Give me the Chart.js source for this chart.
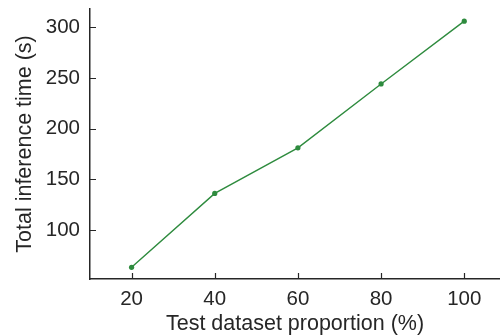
<!DOCTYPE html>
<html>
<head>
<meta charset="utf-8">
<script src="https://cdn.jsdelivr.net/npm/chart.js@4"></script>
<style>
  html, body { margin: 0; padding: 0; background: #fff; overflow: hidden; }
  #wrap { width: 500px; height: 336px; }
</style>
</head>
<body>
<div id="wrap"><canvas id="lineChart"></canvas></div>
<script>
// 데이터
const proportions = [20, 40, 60, 80, 100];
const inferenceTimes = [63, 136, 181, 244, 306];
const yTicks = [100, 150, 200, 250, 300];

const inkColor = '#262626';
const lineColor = '#2e8b3e';
const fontFamily = '"Liberation Sans", Arial, sans-serif';

// 안쪽으로 향한 눈금 그리기
const innerTicks = {
  id: 'innerTicks',
  afterDraw(chart) {
    const ctx = chart.ctx;
    const x = chart.scales.x, y = chart.scales.y;
    const len = 6;
    ctx.save();
    ctx.strokeStyle = inkColor;
    ctx.lineWidth = 1.2;
    ctx.beginPath();
    x.ticks.forEach(t => {
      const px = Math.round(x.getPixelForValue(t.value)) + 0.5;
      ctx.moveTo(px, y.bottom);
      ctx.lineTo(px, y.bottom - len);
    });
    y.ticks.forEach(t => {
      const py = Math.round(y.getPixelForValue(t.value)) + 0.5;
      ctx.moveTo(x.left, py);
      ctx.lineTo(x.left + len, py);
    });
    ctx.stroke();
    ctx.restore();
  }
};

let ctx = document.getElementById('lineChart');
new Chart(ctx, {
  type: 'line',
  data: {
    datasets: [{
      data: proportions.map((p, i) => ({ x: p, y: inferenceTimes[i] })),
      borderColor: lineColor,
      backgroundColor: lineColor,
      pointBackgroundColor: lineColor,
      pointBorderColor: lineColor,
      borderWidth: 1.4,
      pointRadius: 2.6,
      pointBorderWidth: 0,
      tension: 0,
      fill: false
    }]
  },
  options: {
    responsive: true,
    maintainAspectRatio: false,
    animation: false,
    devicePixelRatio: 1,
    layout: { autoPadding: false, padding: { top: 9, right: 0, left: 0, bottom: 0 } },
    scales: {
      x: {
        type: 'linear',
        min: 10,
        max: 108.6,
        afterBuildTicks: (scale) => { scale.ticks = proportions.map(v => ({ value: v })); },
        afterFit: (scale) => {
          scale.height = 57;
          scale.paddingLeft = 0;
          scale.paddingRight = 0;
        },
        grid: { display: false, drawTicks: false },
        border: { display: true, color: inkColor, width: 1.5 },
        ticks: {
          color: inkColor,
          padding: 8,
          maxRotation: 0,
          font: { family: fontFamily, size: 20.5 }
        },
        title: {
          display: true,
          text: 'Test dataset proportion (%)',
          color: inkColor,
          padding: { top: 0, bottom: -1 },
          font: { family: fontFamily, size: 21.5 }
        }
      },
      y: {
        type: 'linear',
        min: 51.5,
        max: 318,
        afterBuildTicks: (scale) => { scale.ticks = yTicks.map(v => ({ value: v })); },
        afterFit: (scale) => {
          scale.width = 90;
          scale.paddingTop = 0;
          scale.paddingBottom = 0;
        },
        grid: { display: false, drawTicks: false },
        border: { display: true, color: inkColor, width: 1.5 },
        ticks: {
          color: inkColor,
          padding: 10,
          font: { family: fontFamily, size: 20.5 }
        },
        title: {
          display: true,
          text: 'Total inference time (s)',
          color: inkColor,
          padding: { top: 12, bottom: 0 },
          font: { family: fontFamily, size: 21.5 }
        }
      }
    },
    plugins: {
      legend: { display: false },
      tooltip: { enabled: false }
    }
  },
  plugins: [innerTicks]
});
</script>
</body>
</html>
